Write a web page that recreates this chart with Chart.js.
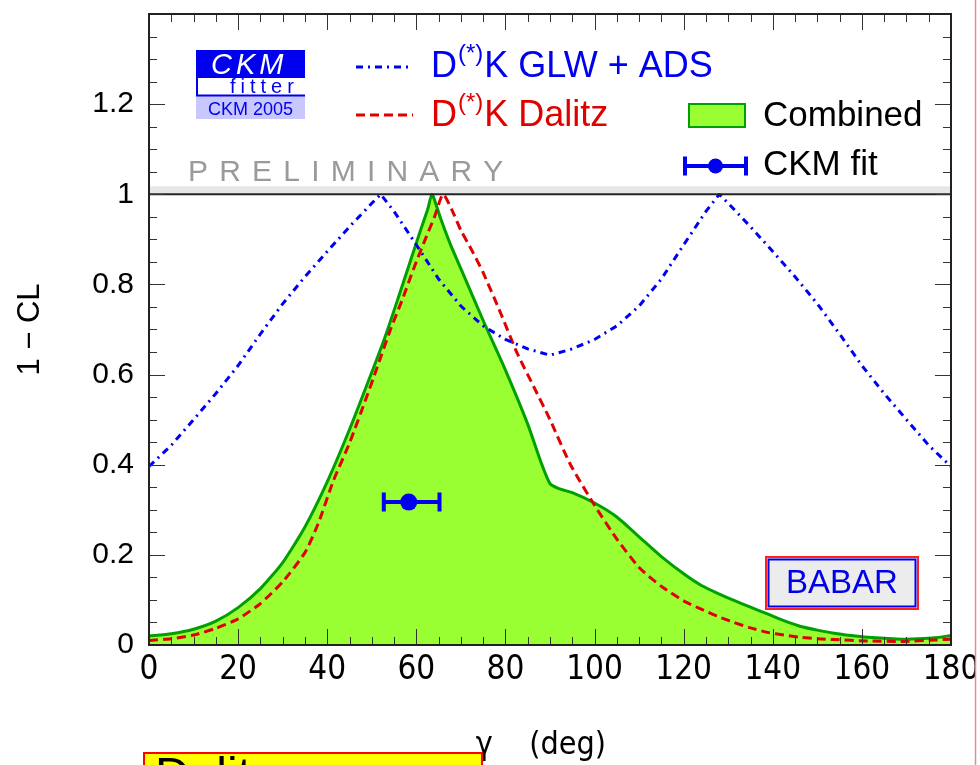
<!DOCTYPE html>
<html>
<head>
<meta charset="utf-8">
<script src="https://cdn.jsdelivr.net/npm/chart.js@4.4.1/dist/chart.umd.min.js"></script>
<style>
  html, body { margin: 0; padding: 0; background: #fff; }
  #wrap { width: 980px; height: 765px; position: relative; overflow: hidden; }
  canvas { display: block; }
</style>
</head>
<body>
<div id="wrap"><canvas id="cl" width="980" height="765"></canvas></div>
<script>
// γ (deg) and 1 − CL for the combined constraint
const combinedGamma = [0, 5, 10, 15, 20, 25, 30, 35, 40, 45, 50, 53, 56, 59, 61, 62.5, 63.5, 64.5, 65.5, 67.6, 70, 75, 80, 85, 88, 90, 92, 95, 100, 105, 110, 115, 120, 124, 128, 131.3, 135, 138.8, 142.5, 146.3, 150, 153.8, 157.5, 161.3, 165, 168.8, 172.5, 176.3, 180];
const combinedCL    = [0.020, 0.025, 0.035, 0.053, 0.083, 0.125, 0.183, 0.262, 0.362, 0.478, 0.605, 0.684, 0.772, 0.862, 0.922, 0.965, 1.000, 0.975, 0.945, 0.890, 0.835, 0.720, 0.610, 0.490, 0.405, 0.358, 0.347, 0.338, 0.315, 0.284, 0.240, 0.196, 0.158, 0.132, 0.113, 0.099, 0.084, 0.069, 0.054, 0.041, 0.033, 0.026, 0.021, 0.017, 0.015, 0.013, 0.014, 0.016, 0.021];

// γ (deg) and 1 − CL for the D(*)K Dalitz analysis
const dalitzGamma = [0, 5, 10, 15, 20, 25, 30, 35, 38, 41.4, 45, 48.9, 51, 54.2, 57, 59.4, 62, 64, 66, 68, 70, 72.5, 75, 78.9, 82.6, 86.3, 90, 94.6, 100, 105, 110, 115, 120, 123.8, 127.5, 131.3, 135, 138.8, 142.5, 146.3, 150, 153.8, 161.3, 168.8, 176.3, 180];
const dalitzCL    = [0.010, 0.014, 0.022, 0.037, 0.058, 0.092, 0.140, 0.205, 0.270, 0.365, 0.448, 0.552, 0.610, 0.700, 0.770, 0.835, 0.900, 0.948, 1.000, 0.965, 0.920, 0.875, 0.826, 0.737, 0.648, 0.574, 0.500, 0.400, 0.310, 0.235, 0.172, 0.130, 0.098, 0.080, 0.064, 0.050, 0.038, 0.028, 0.022, 0.017, 0.014, 0.012, 0.009, 0.008, 0.011, 0.013];

// γ (deg) and 1 − CL for the D(*)K GLW + ADS analyses
const glwGamma = [0, 5, 10, 15, 20, 25, 30, 35, 40, 45, 50, 52, 55, 60, 65, 70, 75, 80, 85, 90, 95, 100, 105, 110, 115, 120, 125, 128, 130, 135, 140, 145, 150, 155, 160, 165, 170, 175, 180];
const glwCL    = [0.396, 0.443, 0.500, 0.558, 0.620, 0.690, 0.757, 0.817, 0.873, 0.928, 0.980, 1.000, 0.962, 0.888, 0.812, 0.752, 0.708, 0.678, 0.657, 0.643, 0.657, 0.678, 0.708, 0.752, 0.812, 0.888, 0.962, 1.000, 0.980, 0.928, 0.873, 0.817, 0.757, 0.690, 0.620, 0.558, 0.500, 0.443, 0.396];

// CKM fit result for γ with its asymmetric error
const ckmFitGamma    = [58.3];
const ckmFitCL       = [0.317];
const ckmFitErrMinus = [5.6];
const ckmFitErrPlus  = [6.9];

// Axis tick values and labels
const xTickValues = [0, 20, 40, 60, 80, 100, 120, 140, 160, 180];
const xTickLabels = ['0', '20', '40', '60', '80', '100', '120', '140', '160', '180'];
const yTickValues = [0, 0.2, 0.4, 0.6, 0.8, 1, 1.2];
const yTickLabels = ['0', '0.2', '0.4', '0.6', '0.8', '1', '1.2'];

const SANS = '"Liberation Sans", Arial, Helvetica, sans-serif';
const NARROW = '"Liberation Sans Narrow", "DejaVu Sans Condensed", "Liberation Sans", sans-serif';

const BLUE = '#0000f0';
const RED = '#e00000';
const GREEN_LINE = '#00a000';
const GREEN_FILL = '#99ff33';

function pts(xs, ys) { return xs.map((x, i) => ({ x: x, y: ys[i] })); }

function spacedText(ctx, text, x, y, spacing) {
  let cx = x;
  for (const ch of text) {
    ctx.fillText(ch, cx, y);
    cx += ctx.measureText(ch).width + spacing;
  }
}

// Error bar under the CKM fit point
const errorBars = {
  id: 'errorBars',
  beforeDatasetDraw(chart, args) {
    if (args.index !== 0) return;
    const { ctx } = chart;
    const xs = chart.scales.x, ys = chart.scales.y;
    ctx.save();
    ctx.strokeStyle = BLUE;
    ctx.lineWidth = 4;
    ckmFitGamma.forEach((g, i) => {
      const x0 = xs.getPixelForValue(g - ckmFitErrMinus[i]);
      const x1 = xs.getPixelForValue(g + ckmFitErrPlus[i]);
      const y = ys.getPixelForValue(ckmFitCL[i]);
      ctx.beginPath();
      ctx.moveTo(x0, y); ctx.lineTo(x1, y);
      ctx.moveTo(x0, y - 9.5); ctx.lineTo(x0, y + 9.5);
      ctx.moveTo(x1, y - 9.5); ctx.lineTo(x1, y + 9.5);
      ctx.stroke();
    });
    ctx.restore();
  }
};

// Frame, inward ticks, the 1 − CL = 1 divider, legend and labels
const decor = {
  id: 'decor',
  afterDatasetsDraw(chart) {
    const { ctx, chartArea: ca } = chart;
    const xs = chart.scales.x, ys = chart.scales.y;
    ctx.save();

    // divider at 1 − CL = 1 with a light band above it
    const y1 = ys.getPixelForValue(1);
    ctx.fillStyle = '#e6e6e6';
    ctx.fillRect(ca.left, y1 - 8, ca.right - ca.left, 7);
    ctx.strokeStyle = '#222';
    ctx.lineWidth = 2;
    ctx.beginPath(); ctx.moveTo(ca.left, y1); ctx.lineTo(ca.right, y1); ctx.stroke();

    // inward ticks on all four sides
    ctx.strokeStyle = '#333';
    ctx.lineWidth = 1;
    ctx.beginPath();
    for (let k = 0; k <= 36; k++) {
      const v = k * 5;
      const px = Math.round(xs.getPixelForValue(v)) + 0.5;
      const len = k % 4 === 0 ? 16 : 8;
      ctx.moveTo(px, ca.bottom); ctx.lineTo(px, ca.bottom - len);
      ctx.moveTo(px, ca.top); ctx.lineTo(px, ca.top + len);
    }
    for (let k = 0; k <= 28; k++) {
      const v = k * 0.05;
      const py = Math.round(ys.getPixelForValue(v)) + 0.5;
      const len = k % 4 === 0 ? 16 : 8;
      ctx.moveTo(ca.left, py); ctx.lineTo(ca.left + len, py);
      ctx.moveTo(ca.right, py); ctx.lineTo(ca.right - len, py);
    }
    ctx.stroke();

    // frame
    ctx.strokeStyle = '#222';
    ctx.lineWidth = 2;
    ctx.strokeRect(ca.left, ca.top, ca.right - ca.left, ca.bottom - ca.top);

    // CKMfitter logo
    ctx.fillStyle = '#0000ee';
    ctx.fillRect(196, 50, 109, 28);
    ctx.fillStyle = '#c8c8ff';
    ctx.fillRect(196, 96, 109, 23);
    ctx.strokeStyle = '#0000ee';
    ctx.lineWidth = 2;
    ctx.beginPath();
    ctx.moveTo(197, 78); ctx.lineTo(197, 95.5); ctx.lineTo(305, 95.5);
    ctx.stroke();
    ctx.fillStyle = '#fff';
    ctx.font = 'italic 29px ' + SANS;
    ctx.textBaseline = 'alphabetic';
    ctx.textAlign = 'left';
    spacedText(ctx, 'CKM', 211, 74, 4);
    ctx.fillStyle = '#0000ee';
    ctx.font = '20px ' + SANS;
    spacedText(ctx, 'fitter', 230, 93, 5);
    ctx.font = '18px ' + SANS;
    ctx.textAlign = 'center';
    ctx.fillText('CKM 2005', 250.5, 115);

    // PRELIMINARY
    ctx.fillStyle = '#9a9a9a';
    ctx.font = '30px ' + SANS;
    ctx.textAlign = 'left';
    spacedText(ctx, 'PRELIMINARY', 188, 181, 11.2);

    // legend: GLW + ADS and Dalitz line samples
    const lineItems = [
      { ds: chart.data.datasets[1], y: 67, base: 77, pre: 'D', sup: '(*)', post: 'K GLW + ADS' },
      { ds: chart.data.datasets[2], y: 115, base: 126, pre: 'D', sup: '(*)', post: 'K Dalitz' }
    ];
    lineItems.forEach(it => {
      ctx.save();
      ctx.strokeStyle = it.ds.borderColor;
      ctx.lineWidth = it.ds.borderWidth;
      ctx.setLineDash(it.ds.borderDash);
      ctx.beginPath(); ctx.moveTo(356, it.y); ctx.lineTo(413, it.y); ctx.stroke();
      ctx.restore();
      ctx.fillStyle = it.ds.borderColor;
      ctx.textAlign = 'left';
      ctx.font = '36px ' + SANS;
      let x = 431;
      ctx.fillText(it.pre, x, it.base);
      x += ctx.measureText(it.pre).width + 1;
      ctx.font = '24px ' + SANS;
      ctx.fillText(it.sup, x, it.base - 16);
      x += ctx.measureText(it.sup).width + 1;
      ctx.font = '36px ' + SANS;
      ctx.fillText(it.post, x, it.base);
    });

    // legend: combined area and CKM fit marker
    const comb = chart.data.datasets[3];
    ctx.fillStyle = comb.backgroundColor;
    ctx.fillRect(689, 104, 56, 23);
    ctx.strokeStyle = comb.borderColor;
    ctx.lineWidth = 2;
    ctx.strokeRect(689, 104, 56, 23);
    ctx.fillStyle = '#000';
    ctx.font = '35px ' + SANS;
    ctx.fillText(comb.label, 763, 126);

    const fit = chart.data.datasets[0];
    ctx.strokeStyle = fit.pointBackgroundColor;
    ctx.lineWidth = 4;
    ctx.beginPath();
    ctx.moveTo(685, 166); ctx.lineTo(746, 166);
    ctx.moveTo(685, 156.5); ctx.lineTo(685, 175.5);
    ctx.moveTo(746, 156.5); ctx.lineTo(746, 175.5);
    ctx.stroke();
    ctx.fillStyle = fit.pointBackgroundColor;
    ctx.beginPath(); ctx.arc(715.5, 166, 7.5, 0, Math.PI * 2); ctx.fill();
    ctx.fillStyle = '#000';
    ctx.fillText(fit.label, 763, 175);

    // BABAR box
    ctx.fillStyle = '#ececec';
    ctx.fillRect(766, 557, 152, 52);
    ctx.strokeStyle = '#ff2020';
    ctx.lineWidth = 2;
    ctx.strokeRect(766, 557, 152, 52);
    ctx.strokeStyle = '#0000ee';
    ctx.strokeRect(768.5, 559.5, 147, 47);
    ctx.fillStyle = '#0000ee';
    ctx.font = '33px ' + SANS;
    ctx.textAlign = 'center';
    ctx.textBaseline = 'middle';
    ctx.fillText('BABAR', 842, 584);

    // yellow note box below the axis
    ctx.textBaseline = 'alphabetic';
    ctx.textAlign = 'left';
    ctx.fillStyle = '#ffff00';
    ctx.fillRect(144, 753, 338, 40);
    ctx.strokeStyle = '#ff0000';
    ctx.lineWidth = 2;
    ctx.strokeRect(144, 753, 338, 40);
    ctx.fillStyle = '#000';
    ctx.font = '48px ' + SANS;
    ctx.fillText('Dalitz', 155, 791);

    // page edge on the right
    ctx.fillStyle = '#fff';
    ctx.fillRect(976, 0, 4, 765);
    ctx.strokeStyle = '#f08a8a';
    ctx.lineWidth = 1.5;
    ctx.beginPath(); ctx.moveTo(975.5, 0); ctx.lineTo(975.5, 765); ctx.stroke();

    ctx.restore();
  }
};

new Chart(document.getElementById('cl'), {
  type: 'scatter',
  data: {
    datasets: [
      {
        label: 'CKM fit',
        data: pts(ckmFitGamma, ckmFitCL),
        showLine: false,
        pointRadius: 8.5,
        pointBackgroundColor: BLUE,
        pointBorderWidth: 0,
        pointBorderColor: BLUE
      },
      {
        label: 'D(*)K GLW + ADS',
        data: pts(glwGamma, glwCL),
        showLine: true,
        borderColor: BLUE,
        borderWidth: 3,
        borderDash: [7, 5, 2, 5],
        pointRadius: 0,
        fill: false,
        tension: 0
      },
      {
        label: 'D(*)K Dalitz',
        data: pts(dalitzGamma, dalitzCL),
        showLine: true,
        borderColor: RED,
        borderWidth: 3,
        borderDash: [9, 5],
        pointRadius: 0,
        fill: false,
        tension: 0.2
      },
      {
        label: 'Combined',
        data: pts(combinedGamma, combinedCL),
        showLine: true,
        borderColor: GREEN_LINE,
        backgroundColor: GREEN_FILL,
        borderWidth: 3,
        pointRadius: 0,
        fill: 'origin',
        tension: 0.2
      }
    ]
  },
  options: {
    responsive: false,
    animation: false,
    devicePixelRatio: 1,
    layout: { padding: { left: 0, top: 14, right: 29, bottom: 0 } },
    plugins: {
      legend: { display: false },
      tooltip: { enabled: false }
    },
    scales: {
      x: {
        type: 'linear',
        min: 0,
        max: 180,
        afterBuildTicks: s => { s.ticks = xTickValues.map(v => ({ value: v })); },
        afterFit: s => { s.height = 120; s.paddingLeft = 0; s.paddingRight = 0; },
        grid: { display: false, drawTicks: false },
        border: { display: false },
        ticks: {
          autoSkip: false,
          maxRotation: 0,
          padding: 6,
          color: '#000',
          font: { family: NARROW, size: 33 },
          callback: (v, i) => xTickLabels[i]
        },
        title: {
          display: true,
          text: 'γ    (deg)  ',
          color: '#000',
          font: { family: NARROW, size: 32 },
          padding: { top: 0, bottom: 0 }
        }
      },
      y: {
        type: 'linear',
        min: 0,
        max: 1.4,
        afterBuildTicks: s => { s.ticks = yTickValues.map(v => ({ value: v })); },
        afterFit: s => { s.width = 149; s.paddingTop = 0; s.paddingBottom = 0; },
        grid: { display: false, drawTicks: false },
        border: { display: false },
        ticks: {
          padding: 15,
          color: '#000',
          font: { family: SANS, size: 30 },
          callback: (v, i) => yTickLabels[i]
        },
        title: {
          display: true,
          text: '1 − CL',
          color: '#000',
          font: { family: SANS, size: 31 },
          padding: { top: 12, bottom: 0 }
        }
      }
    }
  },
  plugins: [errorBars, decor]
});
</script>
</body>
</html>
